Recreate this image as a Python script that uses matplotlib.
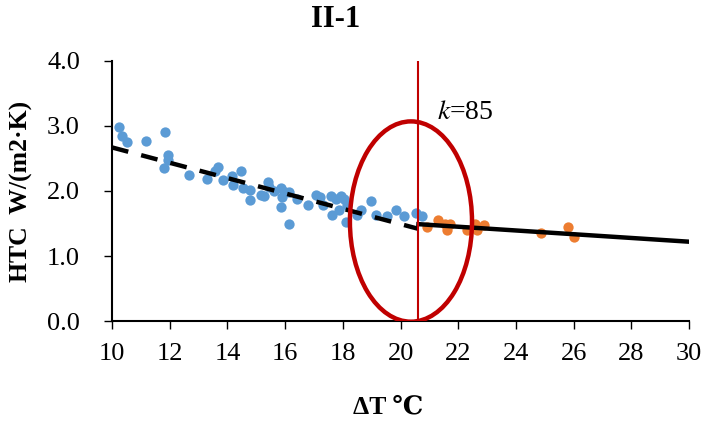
import numpy as np
import matplotlib.pyplot as plt
from matplotlib.patches import Ellipse

plt.rcParams['font.family'] = ['Liberation Serif', 'DejaVu Serif']

# blue points (before break)
blue_x = [10.25, 10.34, 10.52, 11.18, 11.84, 11.93, 11.95, 11.81, 12.67, 13.31,
          13.66, 13.57, 13.85, 14.17, 14.2, 14.46, 14.54, 14.8, 14.79, 15.4,
          15.17, 15.28, 15.45, 15.6, 15.86, 15.86, 15.9, 16.15, 16.15, 16.41,
          15.98, 16.78, 17.07, 17.3, 17.59, 17.76, 17.64, 17.87, 18.16, 18.1,
          18.5, 18.62, 18.99, 19.14, 19.54, 19.83, 20.11, 20.52, 20.74, 17.95,
          18.05, 17.2]
blue_y = [2.99, 2.84, 2.75, 2.77, 2.90, 2.55, 2.48, 2.35, 2.25, 2.19,
          2.37, 2.30, 2.17, 2.23, 2.09, 2.30, 2.04, 1.86, 2.01, 2.14,
          1.94, 1.92, 2.06, 2.00, 2.04, 1.76, 1.90, 1.99, 1.50, 1.87,
          1.99, 1.78, 1.94, 1.78, 1.92, 1.87, 1.63, 1.71, 1.78, 1.53,
          1.63, 1.71, 1.85, 1.63, 1.61, 1.71, 1.61, 1.66, 1.61, 1.92,
          1.88, 1.90]

# orange points (after break)
orange_x = [20.92, 21.28, 21.55, 21.6, 21.7, 22.3, 22.59, 22.64, 22.9, 24.88, 25.8, 26.0]
orange_y = [1.45, 1.56, 1.50, 1.40, 1.50, 1.40, 1.50, 1.40, 1.48, 1.35, 1.44, 1.30]

# fitted lines
fit1_x = [10.0, 20.6]
fit1_y = [2.67, 1.42]
fit2_x = [20.62, 30.0]
fit2_y = [1.49, 1.22]

k_break = 20.61

fig = plt.figure(figsize=(7.04, 4.23), dpi=100)
ax = fig.add_axes([0.159, 0.241, 0.820, 0.615])

ax.scatter(blue_x, blue_y, s=55, color='#5b9bd5', zorder=3, linewidths=0)
ax.scatter(orange_x, orange_y, s=55, color='#ed7d31', zorder=3, linewidths=0)

ax.plot(fit1_x, fit1_y, color='black', lw=3.2, ls=(0, (3.8, 3.0)), zorder=4)
ax.plot(fit2_x, fit2_y, color='black', lw=3.2, zorder=4)

ax.axvline(k_break, color='#c00000', lw=1.5, zorder=5)
ell = Ellipse((20.36, 1.53), 4.23, 3.08, fill=False, edgecolor='#c00000', lw=3.2, zorder=5)
ax.add_patch(ell)

ax.text(21.26, 3.2, r'$k$=85', fontsize=20, ha='left', va='center',
        math_fontfamily='stix')

ax.set_xlim(10, 30)
ax.set_ylim(0, 4)
ax.set_xticks(np.arange(10, 31, 2))
ax.set_yticks(np.arange(0, 4.1, 1.0))
ax.set_yticklabels(['%.1f' % v for v in np.arange(0, 4.1, 1.0)])
ax.tick_params(labelsize=19, width=1.0, length=6)
ax.tick_params(axis='x', pad=10)
ax.tick_params(axis='y', pad=17)
for s in ['top', 'right']:
    ax.spines[s].set_visible(False)
ax.spines['left'].set_linewidth(1.5)
ax.spines['bottom'].set_linewidth(1.5)

ax.set_ylabel('HTC  W/(m2·K)', fontsize=18.5, fontweight='bold', labelpad=10)
fig.text(0.479 * 0.820 + 0.159, 0.038, 'ΔT ℃', fontsize=18.5, fontweight='bold',
         ha='center', va='center')
fig.text(0.387 * 0.820 + 0.159, 0.953, 'II-1', fontsize=22, fontweight='bold',
         ha='center', va='center')

fig.savefig('out.png', dpi=100)
